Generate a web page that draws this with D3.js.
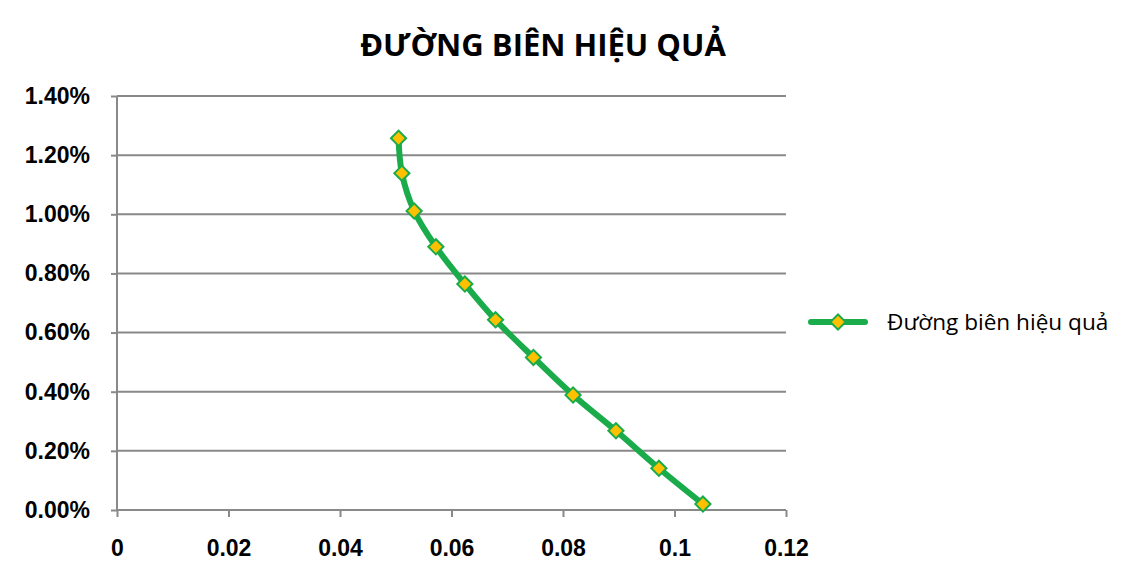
<!DOCTYPE html>
<html><head><meta charset="utf-8">
<script src="https://cdn.jsdelivr.net/npm/d3@7/dist/d3.min.js"></script>
<style>body{margin:0;background:#fff}svg{display:block}</style>
</head><body>
<svg id="c" width="1131" height="587"></svg>
<script>
const title = "ĐƯỜNG BIÊN HIỆU QUẢ";
const seriesName = "Đường biên hiệu quả";
const risk = [0.0505, 0.0511, 0.0533, 0.0572, 0.0624, 0.0679, 0.0747, 0.0818, 0.0895, 0.0972, 0.1051];
const ret = [0.01257, 0.01139, 0.01011, 0.00890, 0.00764, 0.00643, 0.00516, 0.00389, 0.00268, 0.00141, 0.00020];
const xTicks = [0, 0.02, 0.04, 0.06, 0.08, 0.1, 0.12];
const yTicks = [0, 0.002, 0.004, 0.006, 0.008, 0.010, 0.012, 0.014];

const svg = d3.select("#c");
const L = 117, R = 786, T = 96, B = 510;
const x = d3.scaleLinear().domain([0, 0.12]).range([L, R]);
const y = d3.scaleLinear().domain([0, 0.014]).range([B, T]);
const grid = "#898989", green = "#1aab4b", gold = "#ffc000";
const tickFont = "'Liberation Sans', Arial, sans-serif";

svg.append("text").attr("x", 543).attr("y", 56).attr("text-anchor", "middle")
  .attr("font-family", "'Open Sans', sans-serif").attr("font-weight", 700).attr("font-size", 31)
  .attr("fill", "#000").text(title);

// gridlines
svg.append("g").selectAll("line").data(yTicks.slice(1)).join("line")
  .attr("x1", L).attr("x2", R).attr("y1", d => y(d)).attr("y2", d => y(d))
  .attr("stroke", grid).attr("stroke-width", 2);

const yAxis = svg.append("g").attr("transform", `translate(${L},0)`)
  .call(d3.axisLeft(y).tickValues(yTicks).tickSize(6).tickPadding(21).tickFormat(d3.format(".2%")));
const xAxis = svg.append("g").attr("transform", `translate(0,${B})`)
  .call(d3.axisBottom(x).tickValues(xTicks).tickSize(7).tickPadding(23).tickFormat(d => d === 0 ? "0" : String(+d.toFixed(2))));
[yAxis, xAxis].forEach(a => {
  a.select(".domain").attr("stroke", grid).attr("stroke-width", 2);
  a.selectAll(".tick line").attr("stroke", grid).attr("stroke-width", 2);
  a.selectAll("text").attr("font-family", tickFont).attr("font-weight", 700).attr("font-size", 23).attr("fill", "#000");
});
xAxis.select(".domain").attr("d", `M${L},0H${R}`);
yAxis.select(".domain").attr("d", `M0,${B}V${T}`);

const pts = risk.map((r, i) => [r, ret[i]]);
svg.append("path").datum(pts)
  .attr("d", d3.line().x(d => x(d[0])).y(d => y(d[1])).curve(d3.curveCatmullRom.alpha(0.5)))
  .attr("fill", "none").attr("stroke", green).attr("stroke-width", 6).attr("stroke-linecap", "round");

const marker = d3.symbol().type(d3.symbolSquare).size(115);
svg.append("g").selectAll("path").data(pts).join("path")
  .attr("d", marker)
  .attr("transform", d => `translate(${x(d[0])},${y(d[1])}) rotate(45)`)
  .attr("fill", gold).attr("stroke", green).attr("stroke-width", 2);

// legend
const lg = svg.append("g");
lg.append("line").attr("x1", 811).attr("x2", 865).attr("y1", 322).attr("y2", 322)
  .attr("stroke", green).attr("stroke-width", 6).attr("stroke-linecap", "round");
lg.append("path").attr("d", marker())
  .attr("transform", "translate(838,322) rotate(45)")
  .attr("fill", gold).attr("stroke", green).attr("stroke-width", 2);
lg.append("text").attr("x", 887).attr("y", 330).attr("font-family", "'Open Sans', sans-serif")
  .attr("font-size", 22.6).attr("fill", "#000").text(seriesName);
</script>
</body></html>
